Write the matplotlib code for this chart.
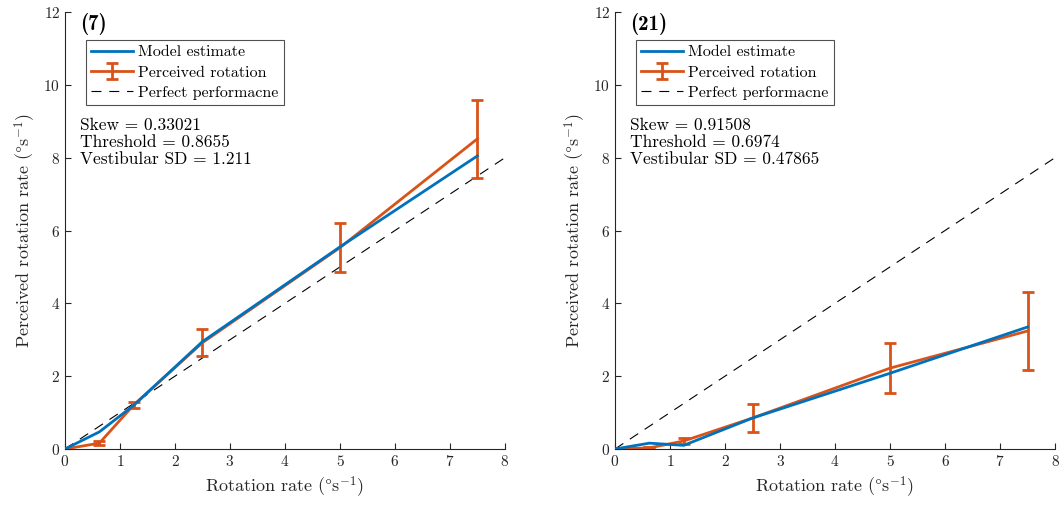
import matplotlib
matplotlib.use("Agg")
import matplotlib.pyplot as plt
import numpy as np

plt.rcParams["font.family"] = ["cmr10", "DejaVu Serif"]
plt.rcParams["mathtext.fontset"] = "cm"
plt.rcParams["axes.formatter.use_mathtext"] = True

# Stimulus rotation rates (deg/s)
rates = [0, 0.625, 1.25, 2.5, 5, 7.5]

# Participant 7
model_7 = [0, 0.47, 1.2, 2.95, 5.55, 8.05]
perceived_7 = [0, 0.16, 1.21, 2.92, 5.53, 8.52]
err_lo_7 = [0, 0.05, 0.09, 0.37, 0.68, 1.07]
err_hi_7 = [0, 0.05, 0.09, 0.37, 0.68, 1.07]
stats_7 = ["Skew = 0.33021", "Threshold = 0.8655", "Vestibular SD = 1.211"]

# Participant 21
model_21 = [0, 0.16, 0.1, 0.85, 2.08, 3.35]
perceived_21 = [0, 0.03, 0.22, 0.85, 2.22, 3.24]
err_lo_21 = [0, 0.02, 0.07, 0.38, 0.69, 1.08]
err_hi_21 = [0, 0.02, 0.07, 0.38, 0.69, 1.08]
stats_21 = ["Skew = 0.91508", "Threshold = 0.6974", "Vestibular SD = 0.47865"]

perfect = [0, 8]

blue = "#0072BD"
orange = "#D95319"
axcol = "#262626"

fig = plt.figure(figsize=(10.6, 5.09), dpi=100)
ax1 = fig.add_axes([0.0613, 0.1179, 0.4151, 0.8585])
ax2 = fig.add_axes([0.5802, 0.1179, 0.4151, 0.8585])


def panel(ax, title, model, perceived, lo, hi, stats):
    h_model, = ax.plot(rates, model, color=blue, lw=2, zorder=3)
    h_perc = ax.errorbar(rates, perceived, yerr=[lo, hi], color=orange, lw=2,
                         elinewidth=2, capsize=4.5, capthick=2, zorder=2)
    h_perf, = ax.plot(perfect, perfect, color="black", lw=0.8, dashes=(9, 7),
                      zorder=1)
    ax.set_xlim(0, 8)
    ax.set_ylim(0, 12)
    ax.set_xticks(range(0, 9))
    ax.set_yticks(range(0, 13, 2))
    for side in ("top", "right"):
        ax.spines[side].set_visible(False)
    for side in ("left", "bottom"):
        ax.spines[side].set_color(axcol)
        ax.spines[side].set_linewidth(0.8)
    ax.tick_params(direction="in", length=4, width=0.8, colors=axcol,
                   labelsize=11, labelcolor=axcol)
    ax.set_xlabel(r"Rotation rate ($\degree$s$^{-1}$)", fontsize=13,
                  color=axcol)
    ax.set_ylabel(r"Perceived rotation rate ($\degree$s$^{-1}$)", fontsize=13,
                  color=axcol)
    ax.text(0.035, 0.997, title, transform=ax.transAxes, fontsize=15,
            fontweight="bold", family="cmb10", va="top", ha="left")
    leg = ax.legend([h_model, h_perc, h_perf],
                    ["Model estimate", "Perceived rotation",
                     "Perfect performacne"],
                    loc="upper left", bbox_to_anchor=(0.047, 0.937),
                    fontsize=11.5, frameon=True, fancybox=False,
                    edgecolor=axcol, borderpad=0.35, labelspacing=0.38,
                    handlelength=2.6, handletextpad=0.35, borderaxespad=0)
    leg.get_frame().set_linewidth(0.8)
    ax.text(0.035, 0.758, "\n".join(stats), transform=ax.transAxes,
            fontsize=12.5, va="top", ha="left", linespacing=1.12,
            color="black")


panel(ax1, "(7)", model_7, perceived_7, err_lo_7, err_hi_7, stats_7)
panel(ax2, "(21)", model_21, perceived_21, err_lo_21, err_hi_21, stats_21)

fig.savefig("out.png", dpi=100)
